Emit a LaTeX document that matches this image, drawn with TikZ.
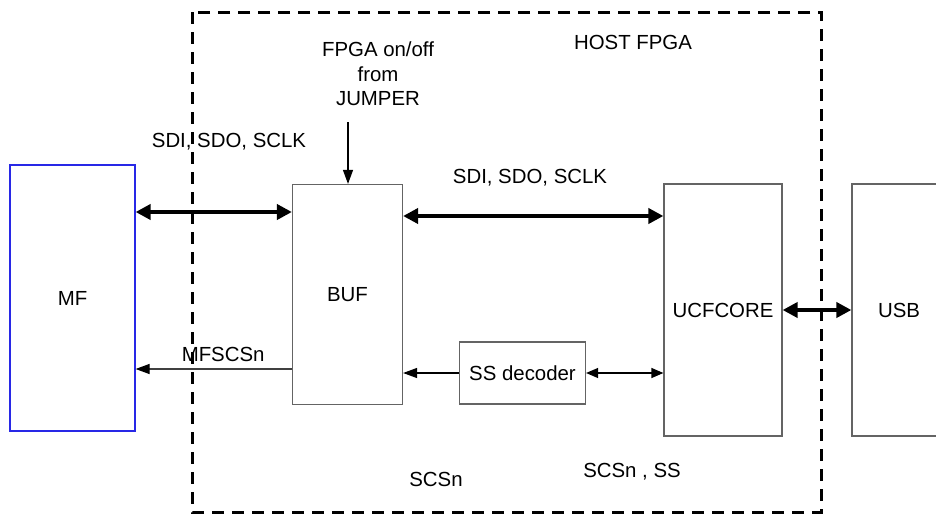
\documentclass[tikz,border=0pt]{standalone}
\usepackage{fontspec}
\setmainfont{Liberation Sans}
\usetikzlibrary{arrows.meta,calc,positioning}
\definecolor{mfblue}{RGB}{40,40,230}
\definecolor{boxgray}{RGB}{100,100,100}

\begin{document}
\begin{tikzpicture}[x=0.5pt,y=-0.5pt,
    font=\fontsize{10.2}{12.25}\selectfont,
    blk/.style={draw=boxgray,line width=0.6pt,inner sep=0pt,minimum width=#1},
    bus/.style={{Triangle[length=7.5pt,width=7.5pt]}-{Triangle[length=7.5pt,width=7.5pt]},line width=2pt},
    sig/.style={-{Triangle[length=7pt,width=5pt,color=black]},line width=0.6pt},
    sigtwo/.style={{Triangle[length=6pt,width=5pt]}-{Triangle[length=6pt,width=5pt]},line width=0.6pt},
    frame/.style={line width=1.5pt,dash pattern=on 6pt off 4pt}]
  \clip (0,0) rectangle (936,514);
  % outer boundary of the host fpga
  \draw[frame] (192,12) rectangle (821,512);
  \node (host) at (633,42) {HOST FPGA};
  % blocks
  \node[blk=62.5pt,draw=mfblue,minimum height=133pt] (MF) at (72.5,298) {MF};
  \node[blk=55pt,minimum height=110pt] (BUF) at (347.5,294.5) {BUF};
  \node[blk=59pt,minimum height=126pt] (UCF) at (723,310) {UCFCORE};
  \node[blk=47pt,minimum height=126pt] (USB) at (899,310) {USB};
  \node[blk=63pt,minimum height=31pt] (SS) at (522.5,373) {SS decoder};
  % buses
  \draw[bus] (MF.east |- 0,212) -- (BUF.west |- 0,212);
  \node (spi1) at (229,142) {SDI, SDO, SCLK};
  \draw[bus] (BUF.east |- 0,216) -- (UCF.west |- 0,216);
  \node (spi2) at (530,178) {SDI, SDO, SCLK};
  \draw[bus] (UCF.east) -- (USB.west);
  % select lines
  \draw[sig,draw=black!75] (BUF.west |- 0,369) -- node[pos=0.44,above=0pt] (mfcs) {MFSCSn} (MF.east |- 0,369);
  \draw[sig] (SS.west) -- (BUF.east |- SS.west);
  \draw[sigtwo] (SS.east) -- (UCF.west |- SS.east);
  \node (scs) at (436,479) {SCSn};
  \node (scsss) at (632,472) {SCSn , SS};
  % jumper
  \node[align=center] (jump) at (378,74) {FPGA on/off\\from\\JUMPER};
  \coordinate (jin) at (348,122);
  \draw[sig] (jin) -- (jin |- BUF.north);
\end{tikzpicture}
\end{document}
